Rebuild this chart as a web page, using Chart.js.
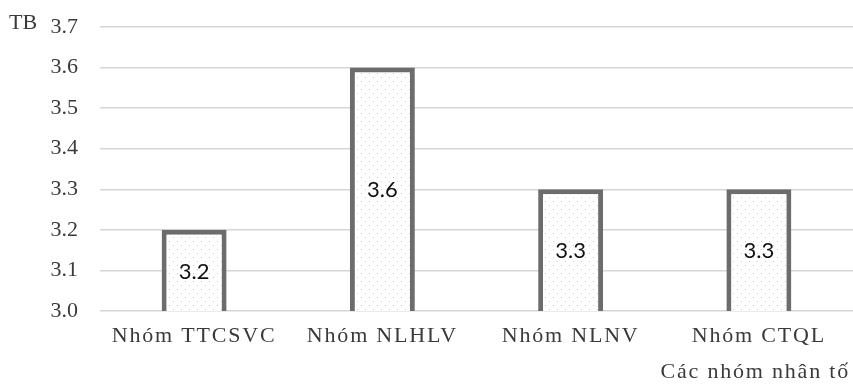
<!DOCTYPE html>
<html>
<head>
<meta charset="utf-8">
<script src="https://cdn.jsdelivr.net/npm/chart.js@4"></script>
<style>
  html, body { margin: 0; padding: 0; background: #fff; }
  #wrap { position: relative; width: 853px; height: 384px; }
  canvas { display: block; }
</style>
</head>
<body>
<div id="wrap"><canvas id="c" width="853" height="384"></canvas></div>
<script>
// Mean score for each factor group
const categories = ['Nhóm TTCSVC', 'Nhóm NLHLV', 'Nhóm NLNV', 'Nhóm CTQL'];
const values = [3.2, 3.6, 3.3, 3.3];
const yTicks = [3.0, 3.1, 3.2, 3.3, 3.4, 3.5, 3.6, 3.7];
const yTitle = 'TB';
const xTitle = 'Các nhóm nhân tố';

const SERIF = '"Liberation Serif", "Times New Roman", serif';
const SANS = 'Lato, "Liberation Sans", sans-serif';
const TEXT = '#3a3a3a';

// light dotted fill used inside the bars
function dotPattern() {
  const p = document.createElement('canvas');
  p.width = 8; p.height = 8;
  const g = p.getContext('2d');
  g.fillStyle = '#ffffff';
  g.fillRect(0, 0, 8, 8);
  g.fillStyle = '#cccccc';
  g.fillRect(1, 1, 1, 1);
  g.fillRect(5, 5, 1, 1);
  return g.createPattern(p, 'repeat');
}

// value text in each bar, the category names and the two axis captions
const annotate = {
  id: 'annotate',
  afterDatasetsDraw(chart) {
    const ctx = chart.ctx;
    const meta = chart.getDatasetMeta(0);
    const xs = chart.scales.x;
    const floor = chart.chartArea.bottom;
    ctx.save();
    ctx.textBaseline = 'middle';
    ctx.textAlign = 'center';

    // bars start at 0, so the visible part ends at the bottom of the plot
    ctx.font = '22px ' + SANS;
    ctx.fillStyle = '#111111';
    meta.data.forEach((bar, i) => {
      const mid = (bar.y + Math.min(bar.base, floor)) / 2;
      ctx.fillText(values[i].toFixed(1), bar.x, mid + 1);
    });

    ctx.font = '22px ' + SERIF;
    ctx.fillStyle = TEXT;
    ctx.letterSpacing = '1.8px';
    categories.forEach((name, i) => {
      ctx.fillText(name, xs.getPixelForValue(i), 336);
    });
    ctx.textAlign = 'right';
    ctx.fillText(xTitle, 850, 372);

    ctx.letterSpacing = '0px';
    ctx.textAlign = 'left';
    ctx.fillText(yTitle, 9, 23);
    ctx.restore();
  }
};

new Chart(document.getElementById('c'), {
  type: 'bar',
  data: {
    labels: categories,
    datasets: [{
      data: values,
      backgroundColor: dotPattern(),
      borderColor: '#6c6c6c',
      borderWidth: 5,
      borderSkipped: 'start',
      categoryPercentage: 1,
      barPercentage: 0.345
    }]
  },
  options: {
    responsive: false,
    animation: false,
    layout: { padding: { top: 27, right: 0, left: 0, bottom: 0 } },
    plugins: { legend: { display: false }, tooltip: { enabled: false } },
    scales: {
      x: {
        grid: { display: false },
        border: { display: false },
        ticks: { display: false },
        afterFit(s) { s.height = 73; }
      },
      y: {
        min: 3.0,
        max: 3.7,
        afterBuildTicks(s) { s.ticks = yTicks.map(v => ({ value: v })); },
        grid: { color: '#d6d6d6', lineWidth: 1.5, drawTicks: false },
        border: { display: false },
        ticks: {
          color: TEXT,
          font: { family: SERIF, size: 22 },
          padding: 22,
          callback: v => Number(v).toFixed(1)
        },
        afterFit(s) {
          s.width = 100;
          s.paddingTop = 0;
          s.paddingBottom = 0;
        }
      }
    }
  },
  plugins: [annotate]
});
</script>
</body>
</html>
